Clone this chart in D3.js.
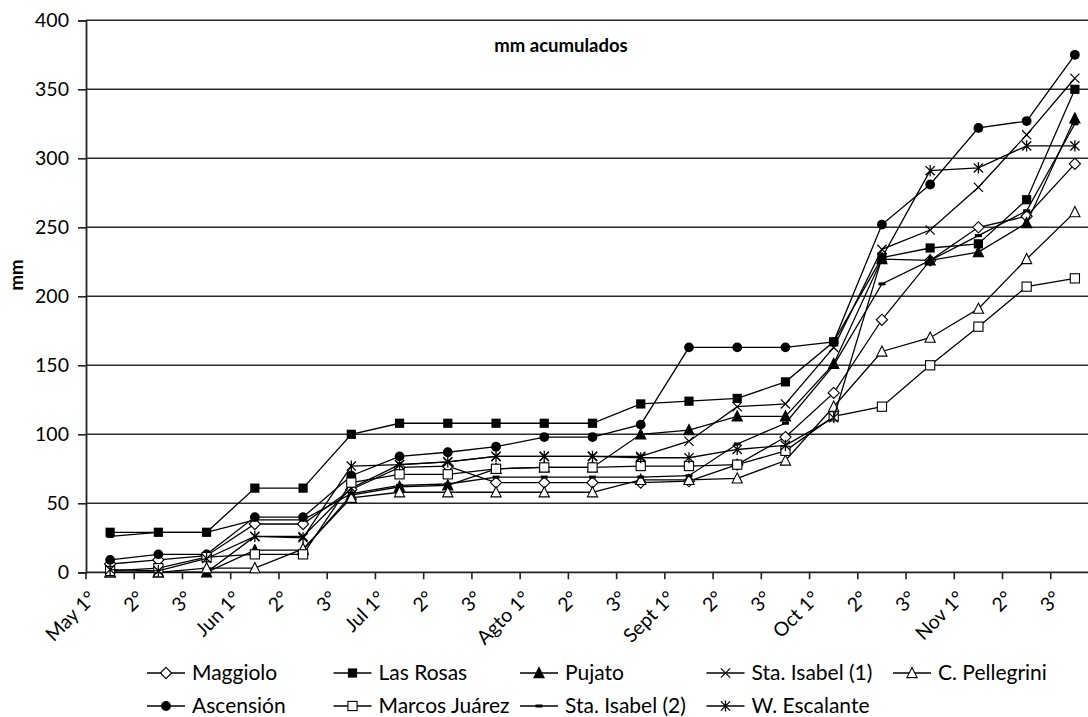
<!DOCTYPE html>
<html><head><meta charset="utf-8">
<script src="https://cdn.jsdelivr.net/npm/d3@7"></script>
<style>
body{margin:0;background:#fff}
svg{display:block}
text{font-family:Lato,"Liberation Sans",sans-serif;fill:#000}
</style>
</head><body>
<svg id="chart" width="1088" height="717"></svg>
<script>
// ---- data ----
const categories = ["May 1°","2°","3°","Jun 1°","2°","3°","Jul 1°","2°","3°","Agto 1°","2°","3°","Sept 1°","2°","3°","Oct 1°","2°","3°","Nov 1°","2°","3°"];
const yTicks = [0,50,100,150,200,250,300,350,400];
const seriesNames = ["Maggiolo","Las Rosas","Pujato","Sta. Isabel (1)","C. Pellegrini","Ascensión","Marcos Juárez","Sta. Isabel (2)","W. Escalante"];
const maggiolo     = [6, 9, 12, 35, 35, 60, 76, 77, 65, 65, 65, 65, 66, 78, 98, 130, 183, 226, 250, 258, 296];
const lasRosas     = [29, 29, 29, 61, 61, 100, 108, 108, 108, 108, 108, 122, 124, 126, 138, 167, 228, 235, 238, 270, 350];
const pujato       = [0, 0, 0, 16, 16, 56, 62, 63, 75, 76, 76, 100, 103, 113, 113, 151, 227, 226, 232, 253, 329];
const staIsabel1   = [0, 0, 0, 26, 26, 61, 78, 80, 84, 84, 84, 84, 95, 120, 122, 163, 234, 248, 279, 317, 358];
const cPellegrini  = [0, 0, 3, 3, 17, 54, 58, 58, 58, 58, 58, 67, 67, 68, 81, 120, 160, 170, 191, 227, 261];
const ascension    = [9, 13, 13, 40, 40, 70, 84, 87, 91, 98, 98, 107, 163, 163, 163, 167, 252, 281, 322, 327, 375];
const marcosJuarez = [1, 3, 11, 13, 13, 65, 71, 71, 75, 76, 76, 77, 77, 78, 88, 113, 120, 150, 178, 207, 213];
const staIsabel2   = [26, 29, 29, 38, 38, 57, 63, 64, 69, 69, 69, 69, 70, 93, 108, 150, 209, 226, 244, 262, 325];
const wEscalante   = [2, 1, 10, 26, 25, 77, 78, 80, 84, 84, 84, 83, 83, 89, 92, 112, 228, 291, 293, 309, 309];
const seriesValues = [maggiolo, lasRosas, pujato, staIsabel1, cPellegrini, ascension, marcosJuarez, staIsabel2, wEscalante];
const markerTypes = ["diamondOpen","squareFilled","triangleFilled","x","triangleOpen","circleFilled","squareOpen","dash","asterisk"];

// ---- layout ----
const svg = d3.select("#chart");
const plot = {left:86, top:20.3, bottom:572.3, right:1099};
const x = d3.scaleBand().domain(d3.range(categories.length)).range([plot.left, plot.right]).padding(0);
const cx = i => x(i) + x.bandwidth()/2;
const y = d3.scaleLinear().domain([0,400]).range([plot.bottom, plot.top]);

// gridlines
svg.append("g").selectAll("line").data(yTicks.filter(d=>d>0)).join("line")
  .attr("x1", plot.left).attr("x2", plot.right)
  .attr("y1", d=>y(d)).attr("y2", d=>y(d))
  .attr("stroke","#2a2a2a").attr("stroke-width",1.6);

// y axis
const yAxis = svg.append("g").attr("transform",`translate(${plot.left},0)`)
  .call(d3.axisLeft(y).tickValues(yTicks).tickSize(8).tickPadding(9));
yAxis.select(".domain").attr("stroke","#222").attr("stroke-width",1.8);
yAxis.selectAll(".tick line").attr("stroke","#222").attr("stroke-width",1.6);
yAxis.selectAll(".tick text").attr("font-size","19.5px").attr("font-family","Lato").attr("fill","#000");

// x axis line and ticks at category boundaries
const bounds = d3.range(categories.length+1).map(i => i < categories.length ? x(i) : x(i-1)+x.bandwidth());
svg.append("line").attr("x1",plot.left).attr("x2",plot.right).attr("y1",plot.bottom).attr("y2",plot.bottom)
  .attr("stroke","#222").attr("stroke-width",1.8);
svg.append("g").selectAll("line").data(bounds).join("line")
  .attr("x1",d=>d).attr("x2",d=>d).attr("y1",plot.bottom).attr("y2",plot.bottom+7)
  .attr("stroke","#222").attr("stroke-width",1.6);

// x labels
svg.append("g").selectAll("text").data(categories).join("text")
  .attr("transform",(d,i)=>`translate(${cx(i)-13},${plot.bottom+27}) rotate(-45)`)
  .attr("text-anchor","end").attr("font-size","19.5px").text(d=>d);

// titles
svg.append("text").attr("x",561).attr("y",52).attr("text-anchor","middle")
  .attr("font-weight","bold").attr("font-size","18.5px").text("mm acumulados");
svg.append("text").attr("transform","translate(23,275) rotate(-90)").attr("text-anchor","middle")
  .attr("font-weight","bold").attr("font-size","18.5px").text("mm");

// marker drawing
function drawMarker(g, type, px, py){
  const s = 4.6;
  if(type==="diamondOpen"){
    g.append("path").attr("d",`M${px},${py-s-1}L${px+s+1},${py}L${px},${py+s+1}L${px-s-1},${py}Z`)
     .attr("fill","#fff").attr("stroke","#000").attr("stroke-width",1.1);
  } else if(type==="squareFilled"){
    g.append("rect").attr("x",px-s).attr("y",py-s).attr("width",2*s).attr("height",2*s).attr("fill","#000");
  } else if(type==="squareOpen"){
    g.append("rect").attr("x",px-s).attr("y",py-s).attr("width",2*s).attr("height",2*s)
     .attr("fill","#fff").attr("stroke","#000").attr("stroke-width",1.1);
  } else if(type==="triangleFilled" || type==="triangleOpen"){
    g.append("path").attr("d",`M${px},${py-s-1}L${px+s+0.5},${py+s}L${px-s-0.5},${py+s}Z`)
     .attr("fill", type==="triangleFilled" ? "#000" : "#fff").attr("stroke","#000").attr("stroke-width",1.1);
  } else if(type==="circleFilled"){
    g.append("circle").attr("cx",px).attr("cy",py).attr("r",s+0.3).attr("fill","#000");
  } else if(type==="x"){
    g.append("path").attr("d",`M${px-s},${py-s}L${px+s},${py+s}M${px-s},${py+s}L${px+s},${py-s}`)
     .attr("stroke","#000").attr("stroke-width",1.2).attr("fill","none");
  } else if(type==="asterisk"){
    g.append("path").attr("d",`M${px-s},${py-s}L${px+s},${py+s}M${px-s},${py+s}L${px+s},${py-s}M${px},${py-s-1}L${px},${py+s+1}`)
     .attr("stroke","#000").attr("stroke-width",1.3).attr("fill","none");
  } else if(type==="dash"){
    g.append("rect").attr("x",px-3.5).attr("y",py-1.5).attr("width",7).attr("height",3).attr("fill","#000");
  }
}

// series
const line = d3.line().x((d,i)=>cx(i)).y(d=>y(d));
seriesValues.forEach((vals, k) => {
  const g = svg.append("g");
  g.append("path").datum(vals).attr("d", line).attr("fill","none").attr("stroke","#000").attr("stroke-width",1.3);
  vals.forEach((v,i) => drawMarker(g, markerTypes[k], cx(i), y(v)));
});

// legend
const legX = [147, 333.5, 520, 706.5, 893];
const legY = [673, 706];
seriesNames.forEach((name, k) => {
  const row = k < 5 ? 0 : 1, col = k < 5 ? k : k-5;
  const lx = legX[col], ly = legY[row];
  const g = svg.append("g");
  g.append("line").attr("x1",lx).attr("x2",lx+38).attr("y1",ly).attr("y2",ly).attr("stroke","#000").attr("stroke-width",1.3);
  drawMarker(g, markerTypes[k], lx+19, ly);
  g.append("text").attr("x",lx+45).attr("y",ly).attr("dy","0.35em").attr("font-size","21px").text(name);
});
</script>
</body></html>
